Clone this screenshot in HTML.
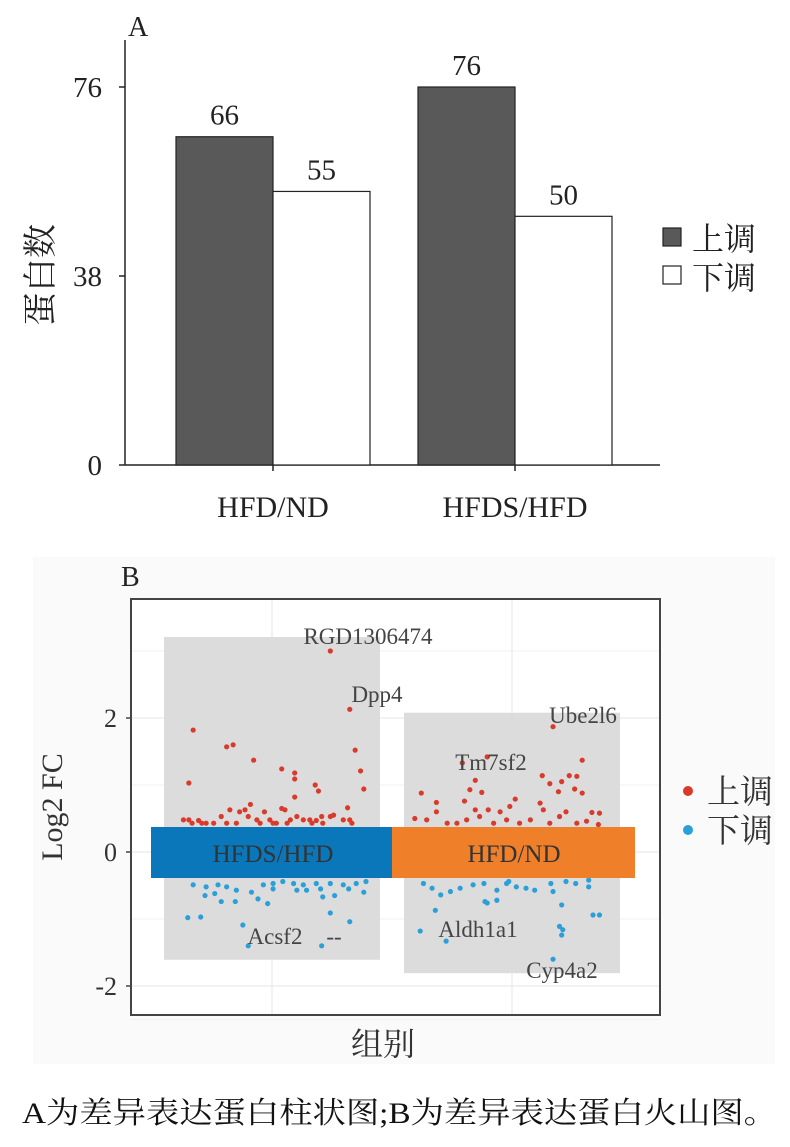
<!DOCTYPE html>
<html><head><meta charset="utf-8"><style>
body{margin:0;background:#fff;width:790px;height:1147px;overflow:hidden}
svg{display:block}
.s{font-family:"Liberation Serif","Noto Serif CJK SC",serif}
</style></head><body>
<svg id="fig" width="790" height="1147" viewBox="0 0 790 1147" xmlns="http://www.w3.org/2000/svg">
<text x="128" y="36" class="s" font-size="28" fill="#222">A</text>
<g id="panelA"></g>
<rect x="33" y="557" width="742" height="507" fill="#fafafa"/>
<text x="121" y="586" class="s" font-size="28" fill="#222">B</text>
<g id="panelB"></g>
<text x="22" y="1123" textLength="755" lengthAdjust="spacingAndGlyphs" class="s" font-size="30" fill="#111">A为差异表达蛋白柱状图;B为差异表达蛋白火山图。</text>
</svg>
<script>
const categories=["HFD/ND","HFDS/HFD"];
const upCounts=[66,76];
const downCounts=[55,50];
const yTicksA=[0,38,76];
const volcanoGroups=["HFDS/HFD","HFD/ND"];
const yTicksB=[-2,0,2];
const leftUp=[[0.54,3.0],[0.72,2.13],[-0.73,1.82],[-0.42,1.57],[-0.36,1.6],[-0.17,1.37],[-0.77,1.03],[0.09,1.24],[0.21,1.18],[0.21,1.09],[0.40,1.0],[0.43,0.91],[0.21,0.82],[0.77,1.52],[0.82,1.21],[0.85,0.94],[0.70,0.66],
[-0.82,0.48],[-0.77,0.48],[-0.68,0.47],[-0.61,0.43],[-0.47,0.53],[-0.39,0.63],[-0.30,0.60],[-0.25,0.63],[-0.20,0.71],[-0.22,0.53],[-0.14,0.48],[-0.07,0.60],[-0.02,0.48],[0.04,0.43],[0.09,0.65],[0.12,0.63],[0.17,0.48],[0.23,0.53],[0.29,0.48],[0.35,0.48],[0.41,0.47],[0.46,0.53],[0.54,0.53],[0.57,0.55],[0.66,0.48],[0.72,0.48],[0.74,0.43],[-0.54,0.43],[-0.42,0.43],[-0.33,0.43],[-0.11,0.43],[0.14,0.43],[0.37,0.43],[0.47,0.43],[0.01,0.43],[-0.74,0.43],[-0.65,0.43]];
const leftDown=[[-0.78,-0.98],[-0.66,-0.97],[0.54,-0.91],[0.72,-1.04],[-0.22,-1.4],[0.46,-1.4],[-0.27,-1.09],
[-0.73,-0.49],[-0.61,-0.52],[-0.50,-0.49],[-0.42,-0.52],[-0.33,-0.57],[-0.19,-0.60],[-0.08,-0.49],[0.01,-0.47],[0.10,-0.44],[0.20,-0.47],[0.29,-0.49],[0.41,-0.47],[0.54,-0.47],[0.66,-0.49],[0.78,-0.47],[0.87,-0.44],[-0.62,-0.65],[-0.53,-0.62],[-0.47,-0.74],[-0.34,-0.74],[-0.13,-0.70],[-0.04,-0.77],[0.01,-0.55],[0.23,-0.57],[0.32,-0.57],[0.45,-0.55],[0.47,-0.67],[0.58,-0.65],[0.71,-0.55],[0.85,-0.60]];
const rightUp=[[0.38,1.87],[0.65,1.37],[-0.23,1.42],[-0.46,1.33],[-0.34,1.07],[0.28,1.14],[0.46,1.05],[0.53,1.14],[0.60,1.13],[0.35,1.02],[0.43,0.90],[0.58,0.94],[0.65,0.88],[-0.84,0.88],[-0.39,0.93],[-0.28,0.89],[-0.44,0.76],[-0.70,0.74],[0.03,0.79],[-0.34,0.63],[-0.22,0.63],[-0.11,0.60],[-0.02,0.68],[0.26,0.73],[0.29,0.63],[0.44,0.53],[0.50,0.60],[0.74,0.59],[0.81,0.58],[-0.90,0.50],[-0.79,0.48],[-0.70,0.60],[-0.60,0.43],[-0.51,0.43],[-0.42,0.48],[-0.30,0.53],[-0.17,0.43],[-0.05,0.48],[0.07,0.43],[0.17,0.48],[0.35,0.43],[0.60,0.43],[0.80,0.41],[0.69,0.46]];
const rightDown=[[0.38,-1.6],[-0.85,-1.18],[-0.61,-1.33],[-0.71,-0.87],[0.46,-1.24],[0.47,-1.16],[0.44,-1.11],[0.46,-0.79],[0.75,-0.94],[0.81,-0.94],[-0.23,-0.76],
[-0.82,-0.47],[-0.74,-0.54],[-0.66,-0.64],[-0.57,-0.59],[-0.48,-0.54],[-0.36,-0.49],[-0.26,-0.47],[-0.14,-0.57],[-0.05,-0.47],[0.04,-0.52],[0.13,-0.54],[0.21,-0.57],[0.36,-0.47],[0.38,-0.59],[0.50,-0.44],[0.59,-0.47],[0.71,-0.52],[0.71,-0.42],[-0.14,-0.72],[-0.25,-0.74],[-0.03,-0.44]];
const NS="http://www.w3.org/2000/svg";
function mk(p,t,a,txt){const e=document.createElementNS(NS,t);for(const k in a)e.setAttribute(k,a[k]);if(txt!==undefined)e.textContent=txt;p.appendChild(e);return e;}
const A=document.getElementById('panelA');
const yA=v=>465-v*(378/76);
const groupLeft=[176,418], bw=97;
let e;
e=mk(A,'line',{x1:125,y1:40,x2:125,y2:465,stroke:'#222','stroke-width':1.5});

e=mk(A,'line',{x1:125,y1:465,x2:660,y2:465,stroke:'#222','stroke-width':1.5});

yTicksA.forEach(t=>{
 e=mk(A,'line',{x1:119,y1:yA(t),x2:125,y2:yA(t),stroke:'#222','stroke-width':1.5});
 
 e=mk(A,'text',{x:102,y:yA(t)+10,'text-anchor':'end',class:'s','font-size':29,fill:'#222'},String(t));
 
});
e=mk(A,'text',{transform:'translate(52,275) rotate(-90)','text-anchor':'middle',class:'s','font-size':34,fill:'#222'},'蛋白数');

categories.forEach((c,i)=>{
 const x0=groupLeft[i];
 e=mk(A,'rect',{x:x0,y:yA(upCounts[i]),width:bw,height:465-yA(upCounts[i]),fill:'#595959',stroke:'#222','stroke-width':1.2});
 
 e=mk(A,'rect',{x:x0+bw,y:yA(downCounts[i]),width:bw,height:465-yA(downCounts[i]),fill:'#fff',stroke:'#222','stroke-width':1.2});
 
 e=mk(A,'text',{x:x0+bw/2,y:yA(upCounts[i])-12,'text-anchor':'middle',class:'s','font-size':29,fill:'#222'},String(upCounts[i]));
 
 e=mk(A,'text',{x:x0+bw*1.5,y:yA(downCounts[i])-12,'text-anchor':'middle',class:'s','font-size':29,fill:'#222'},String(downCounts[i]));
 
 e=mk(A,'line',{x1:x0+bw,y1:465,x2:x0+bw,y2:471,stroke:'#222','stroke-width':1.5});
 
 e=mk(A,'text',{x:x0+bw,y:517,'text-anchor':'middle',class:'s','font-size':30,fill:'#222'},c);
 
});
e=mk(A,'rect',{x:663,y:228,width:18,height:18,fill:'#595959',stroke:'#222','stroke-width':1.2});

e=mk(A,'text',{x:692,y:250,class:'s','font-size':32,fill:'#222'},'上调');

e=mk(A,'rect',{x:663,y:266,width:18,height:18,fill:'#fff',stroke:'#222','stroke-width':1.2});

e=mk(A,'text',{x:692,y:289,class:'s','font-size':32,fill:'#222'},'下调');

const B=document.getElementById('panelB');
const yB=v=>852-v*67;
const centers=[272,512], half=108;
e=mk(B,'rect',{x:131,y:599,width:529,height:416,fill:'#fff'});

[-2.5,-2,-1,0,1,2,3].forEach(v=>{
 e=mk(B,'line',{x1:131,y1:yB(v),x2:660,y2:yB(v),stroke:v%2===0?'#e6e6e6':'#f0f0f0','stroke-width':1});
 
});
centers.forEach(c=>{e=mk(B,'line',{x1:c,y1:599,x2:c,y2:1015,stroke:'#e8e8e8','stroke-width':1.2});
 });
const sets=[[leftUp,leftDown],[rightUp,rightDown]];
sets.forEach((s,i)=>{
 const all=s[0].concat(s[1]).map(p=>p[1]);
 const mx=Math.max(...all),mn=Math.min(...all);
 e=mk(B,'rect',{x:centers[i]-half,y:yB(mx)-14,width:half*2,height:yB(mn)-yB(mx)+28,fill:'#dcdcdc'});
 
});
sets.forEach((s,i)=>{
 s[0].forEach(p=>{e=mk(B,'circle',{cx:centers[i]+p[0]*half,cy:yB(p[1]),r:2.6,fill:'#d93a2b'});
  });
 s[1].forEach(p=>{e=mk(B,'circle',{cx:centers[i]+p[0]*half,cy:yB(p[1]),r:2.6,fill:'#2a9fd8'});
  });
});
const barCols=['#0a77bb','#f07f2a'];
volcanoGroups.forEach((g,i)=>{
 e=mk(B,'rect',{x:151+i*241,y:827,width:243,height:51,fill:barCols[i]});
 
 e=mk(B,'text',{x:273+i*241,y:862,'text-anchor':'middle',class:'s','font-size':25,fill:'#333'},g);
 
});
const labels=[["RGD1306474",368,644],["Dpp4",377,702],["Ube2l6",583,723],["Tm7sf2",491,770],["Acsf2",275,944],["--",334,944],["Aldh1a1",478,937],["Cyp4a2",562,978]];
labels.forEach(l=>{e=mk(B,'text',{x:l[1],y:l[2],'text-anchor':'middle',class:'s','font-size':23,fill:'#444'},l[0]);
 });
e=mk(B,'rect',{x:131,y:599,width:529,height:416,fill:'none',stroke:'#444','stroke-width':2});

yTicksB.forEach(t=>{
 e=mk(B,'line',{x1:126,y1:yB(t),x2:131,y2:yB(t),stroke:'#444','stroke-width':1.5});
 
 e=mk(B,'text',{x:117,y:yB(t)+9,'text-anchor':'end',class:'s','font-size':26,fill:'#333'},String(t));
 
});
e=mk(B,'text',{transform:'translate(62,807) rotate(-90)','text-anchor':'middle',class:'s','font-size':30,fill:'#333'},'Log2 FC');

e=mk(B,'text',{x:383,y:1055,'text-anchor':'middle',class:'s','font-size':32,fill:'#333'},'组别');

e=mk(B,'circle',{cx:688,cy:791,r:5,fill:'#d93a2b'});

e=mk(B,'text',{x:707,y:803,class:'s','font-size':33,fill:'#333'},'上调');

e=mk(B,'circle',{cx:688,cy:830,r:5,fill:'#2a9fd8'});

e=mk(B,'text',{x:707,y:842,class:'s','font-size':33,fill:'#333'},'下调');

</script>
</body></html>
